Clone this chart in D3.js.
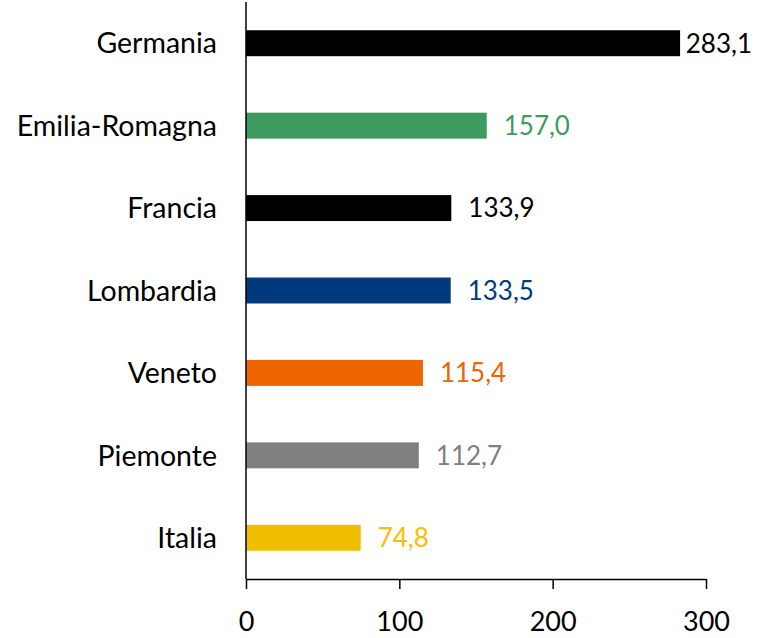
<!DOCTYPE html>
<html>
<head>
<meta charset="utf-8">
<script src="https://cdn.jsdelivr.net/npm/d3@7"></script>
<style>
  body { margin: 0; background: #fff; }
  text { font-family: Lato, "Open Sans", sans-serif; font-weight: 400; }
</style>
</head>
<body>
<svg id="chart" width="763" height="638"></svg>
<script>
// data
const regions = ["Germania", "Emilia-Romagna", "Francia", "Lombardia", "Veneto", "Piemonte", "Italia"];
const values = [283.1, 157.0, 133.9, 133.5, 115.4, 112.7, 74.8];
const colors = ["#000000", "#3f9a60", "#000000", "#003a7d", "#ec6500", "#808080", "#efbe00"];
const labelColors = ["#000000", "#3f9a60", "#000000", "#003a7d", "#ec6500", "#808080", "#f5c000"];
const xTicks = [0, 100, 200, 300];

const svg = d3.select("#chart");
const plotLeft = 246, plotRight = 706, plotTop = 2, plotBottom = 579;

var x = d3.scaleLinear().domain([0, 300]).range([plotLeft, plotRight]);
var y = d3.scaleBand().domain(regions).range([plotTop, plotBottom]).paddingInner(0.685).paddingOuter(0.3425);

var rows = regions.map((r, i) => ({name: r, value: values[i], color: colors[i], lc: labelColors[i]}));

// bars
svg.append("g").selectAll("rect").data(rows).join("rect")
  .attr("x", x(0))
  .attr("y", d => y(d.name))
  .attr("width", d => x(d.value) - x(0))
  .attr("height", y.bandwidth())
  .attr("fill", d => d.color);

// value labels, kept inside the right edge
var fmt = v => v.toFixed(1).replace(".", ",");
svg.append("g").selectAll("text").data(rows).join("text")
  .attr("y", d => y(d.name) + y.bandwidth() / 2)
  .attr("dy", "0.36em")
  .attr("font-size", 26)
  .attr("fill", d => d.lc)
  .text(d => fmt(d.value))
  .attr("x", function(d) {
    var w = this.getComputedTextLength();
    return Math.min(x(d.value) + 17, 752 - w);
  });

// category labels
svg.append("g").selectAll("text").data(rows).join("text")
  .attr("x", 217)
  .attr("y", d => y(d.name) + y.bandwidth() / 2)
  .attr("dy", "0.36em")
  .attr("text-anchor", "end")
  .attr("font-size", 28.5)
  .attr("fill", "#000")
  .text(d => d.name);

// y axis line
svg.append("line")
  .attr("x1", plotLeft).attr("x2", plotLeft)
  .attr("y1", plotTop).attr("y2", plotBottom)
  .attr("stroke", "#000").attr("stroke-width", 1.5);

// x axis
var xAxis = d3.axisBottom(x).tickValues(xTicks).tickSize(10).tickSizeOuter(0).tickPadding(23);
var gx = svg.append("g").attr("transform", "translate(0," + plotBottom + ")").call(xAxis);
gx.select(".domain").attr("stroke", "#000").attr("stroke-width", 1.5);
gx.selectAll(".tick line").attr("stroke", "#000").attr("stroke-width", 1.5);
gx.selectAll(".tick text").attr("font-size", 27).attr("font-family", "Lato, 'Open Sans', sans-serif").attr("fill", "#000");
</script>
</body>
</html>
